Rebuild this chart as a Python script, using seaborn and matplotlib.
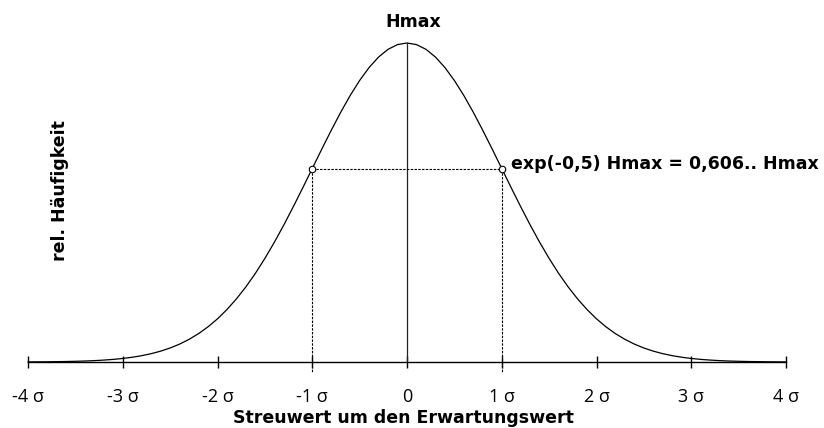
import numpy as np
import pandas as pd
import matplotlib
matplotlib.use("Agg")
import matplotlib.pyplot as plt
import seaborn as sns

# Relative frequency of the normal distribution, sampled every 0.1 sigma
sigma_pos = np.round(np.arange(-40, 41) / 10.0, 1)
rel_freq_right = [
    1.0000, 0.9950, 0.9802, 0.9560, 0.9231, 0.8825, 0.8353, 0.7827, 0.7261, 0.6670,
    0.6065, 0.5461, 0.4868, 0.4296, 0.3753, 0.3247, 0.2780, 0.2357, 0.1979, 0.1645,
    0.1353, 0.1103, 0.0889, 0.0710, 0.0561, 0.0439, 0.0340, 0.0261, 0.0198, 0.0149,
    0.0111, 0.0082, 0.0060, 0.0043, 0.0031, 0.0022, 0.0015, 0.0011, 0.0007, 0.0005,
    0.0003,
]
rel_freq = rel_freq_right[:0:-1] + rel_freq_right

# Inflection points at +-1 sigma
infl_x = [-1.0, 1.0]
infl_y = [0.6065, 0.6065]

tick_pos = [-4, -3, -2, -1, 0, 1, 2, 3, 4]
tick_labels = ["-4 σ", "-3 σ", "-2 σ", "-1 σ", "0", "1 σ", "2 σ", "3 σ", "4 σ"]

x_title = "Streuwert um den Erwartungswert"
y_title = "rel. Häufigkeit"
peak_label = "Hmax"
infl_label = "exp(-0,5) Hmax = 0,606.. Hmax"

sns.set_style("white")
plt.rcParams["font.family"] = ["Open Sans", "DejaVu Sans"]
plt.rcParams["text.color"] = "black"
plt.rcParams["xtick.color"] = "black"
plt.rcParams["xtick.labelcolor"] = "black"
bold_font = dict(family=["DejaVu Sans"], fontweight="bold", fontsize=12.5,
                 color="black")

W, H = 824, 428
fig = plt.figure(figsize=(W / 100, H / 100), dpi=100)
ax_left, ax_right, ax_bottom, ax_top = 28, 786, 362, 43
ax = fig.add_axes([ax_left / W, 1 - ax_bottom / H,
                   (ax_right - ax_left) / W, (ax_bottom - ax_top) / H])

curve = pd.DataFrame({"x": sigma_pos, "y": rel_freq})
sns.lineplot(data=curve, x="x", y="y", ax=ax, color="black", lw=0.9,
             sort=False, clip_on=False)

# Vertical line at the maximum
ax.plot([0, 0], [0, max(rel_freq)], color="#222222", lw=0.9, clip_on=False)

# Dashed construction lines at +-1 sigma
dash = dict(color="black", lw=0.8, ls=(0, (2.2, 1.2)), clip_on=False)
ax.plot(infl_x, infl_y, **dash)
for xv, yv in zip(infl_x, infl_y):
    ax.plot([xv, xv], [yv, -0.035], **dash)

pts = pd.DataFrame({"x": infl_x, "y": infl_y})
sns.scatterplot(data=pts, x="x", y="y", ax=ax, s=22, marker="o",
                facecolor="white", edgecolor="black", linewidth=0.8,
                zorder=5, clip_on=False)

ax.set_xlim(-4, 4)
ax.set_ylim(0, 1)
for s in ["top", "left", "right"]:
    ax.spines[s].set_visible(False)
ax.spines["bottom"].set_linewidth(1.0)
ax.spines["bottom"].set_color("black")
ax.set_yticks([])
ax.set_xticks(tick_pos)
ax.set_xticklabels(tick_labels, fontsize=13, color="black")
ax.tick_params(axis="x", bottom=True, direction="inout", length=9, width=1.0,
               color="black", pad=14)
ax.set_xlabel("")
ax.set_ylabel("")
ax.patch.set_alpha(0)

ax.text(0.07, 1.066, peak_label, ha="center", va="center", **bold_font)
ax.text(1.10, 0.62, infl_label, ha="left", va="center", **bold_font)

fig.text(403.5 / W, 1 - 418 / H, x_title, ha="center", va="center", **bold_font)
fig.text(60 / W, 1 - 191 / H, y_title, ha="center", va="center",
         rotation=90, **bold_font)

fig.savefig("out.png", dpi=100, facecolor="white")
